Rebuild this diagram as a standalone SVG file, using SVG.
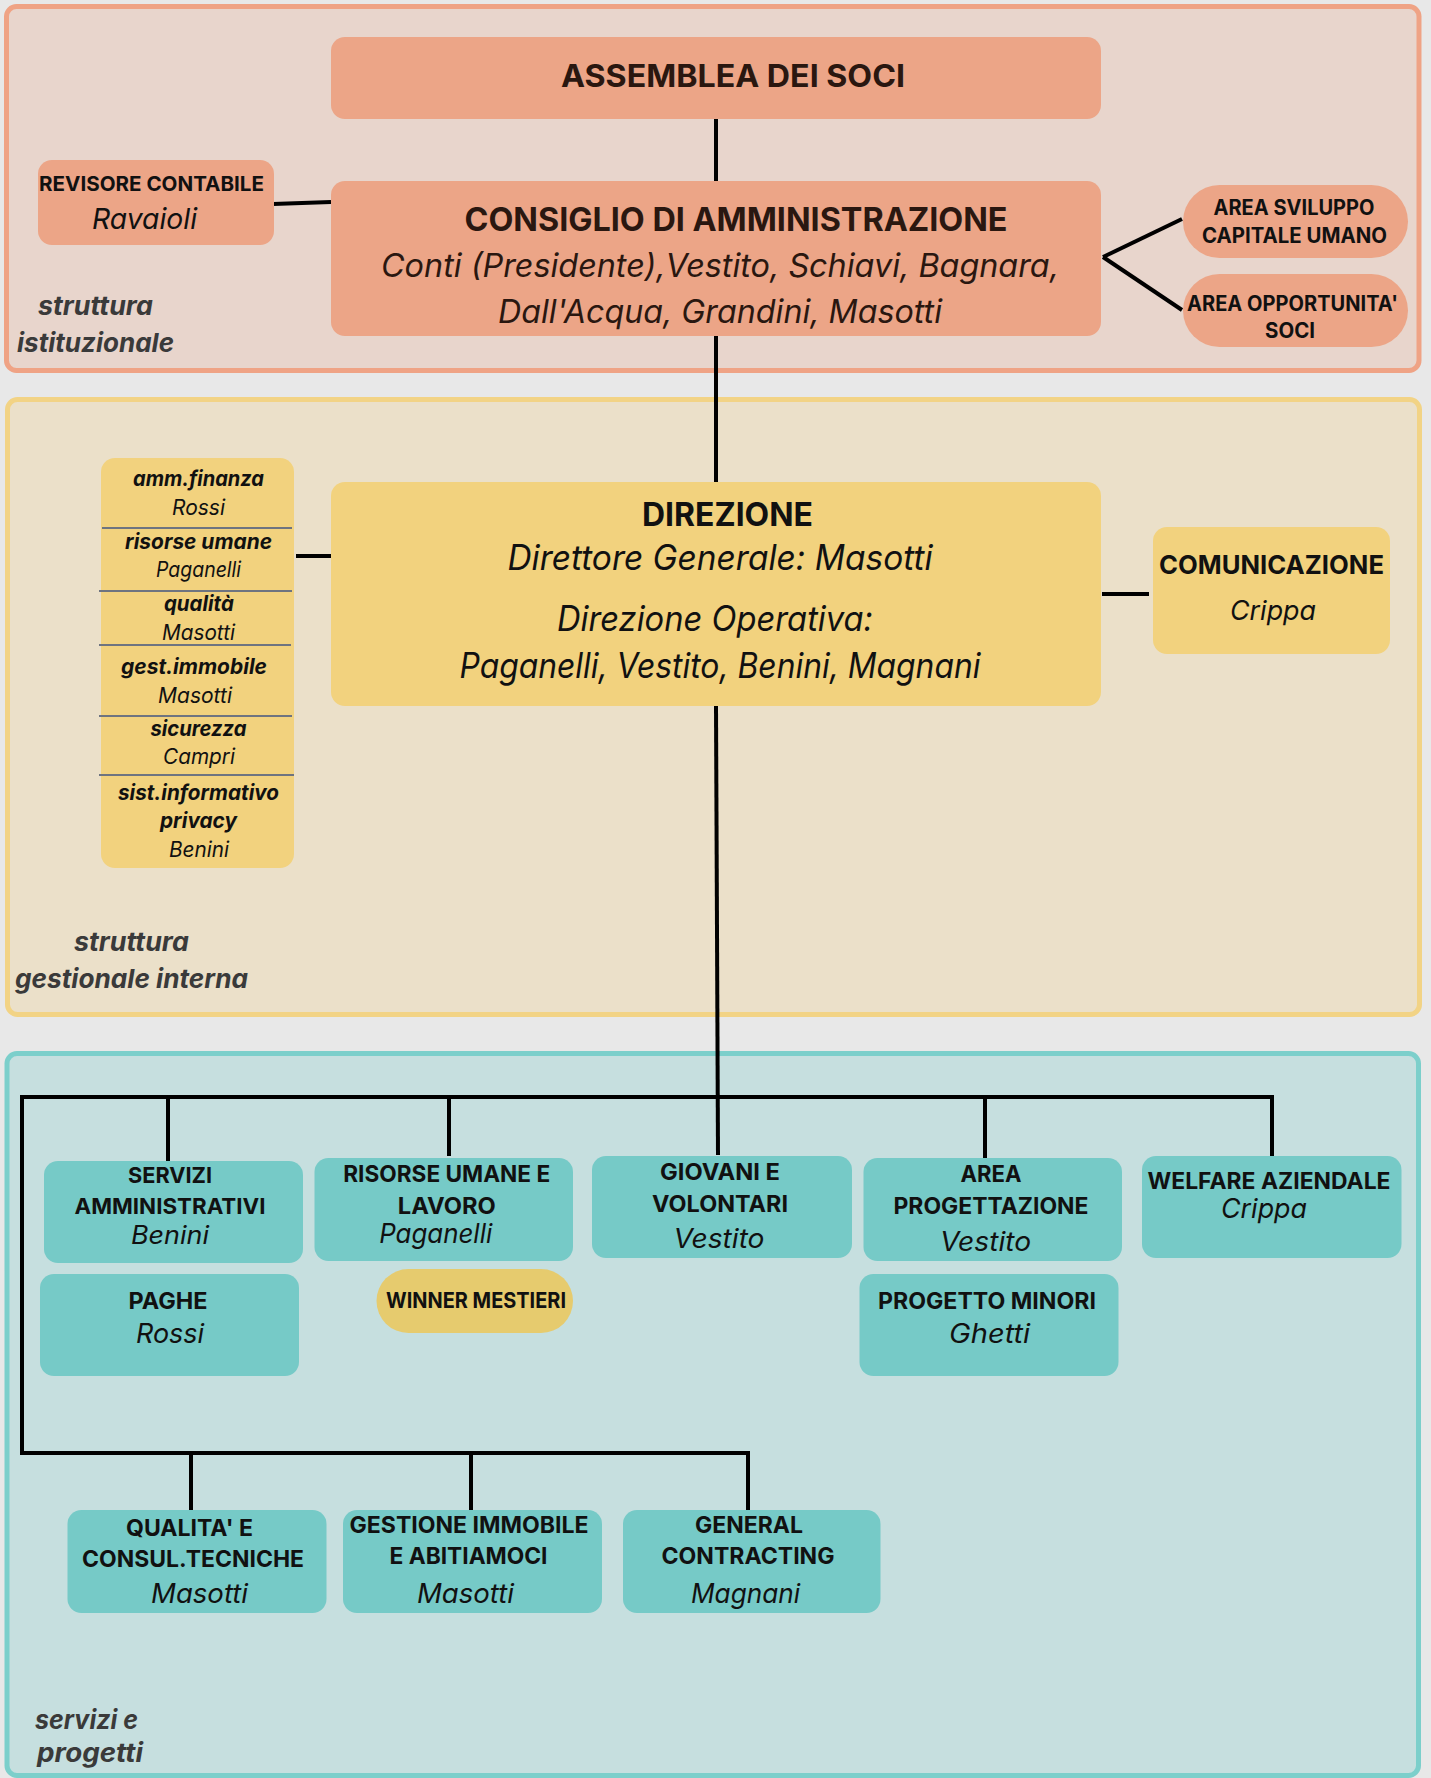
<svg xmlns="http://www.w3.org/2000/svg" width="1431" height="1778" viewBox="0 0 1431 1778">
<style>
text{font-family:Inter,"Liberation Sans",Arial,sans-serif;text-anchor:middle;fill:#111}
.b{font-weight:700}
.i{font-style:italic;font-weight:400}
.bi{font-style:italic;font-weight:700}
.pk text{fill:#2a1710}
.lbl{font-style:italic;font-weight:700;font-size:26px;fill:#3a3a3a;text-anchor:start}
.p1{fill:#E8D5CC;stroke:#EFA385;stroke-width:5}
.p2{fill:#EBE0C9;stroke:#F2D385;stroke-width:5}
.p3{fill:#C6DFDF;stroke:#7CCFCB;stroke-width:5}
.peach{fill:#ECA587}
.yel{fill:#F2D27E}
.teal{fill:#76CAC7}
.win{fill:#E6CB6E}
.conn line{stroke:#000;stroke-width:4}
.div{stroke:#6E7480;stroke-width:2}
</style>
<rect width="1431" height="1778" fill="#E8E8E8"/>
<g id="panels">
<rect class="p1" x="6.5" y="6.5" width="1412.5" height="364" rx="10"/>
<rect class="p2" x="7.5" y="399.5" width="1412" height="615" rx="10"/>
<rect class="p3" x="7" y="1053.5" width="1411.5" height="722" rx="10"/>
</g>
<g id="labels">
<text class="lbl" x="38" y="315" textLength="115" lengthAdjust="spacingAndGlyphs">struttura</text>
<text class="lbl" x="17" y="352" textLength="157" lengthAdjust="spacingAndGlyphs">istituzionale</text>
<text class="lbl" x="74" y="951" textLength="115" lengthAdjust="spacingAndGlyphs">struttura</text>
<text class="lbl" x="15" y="988" textLength="233" lengthAdjust="spacingAndGlyphs">gestionale interna</text>
<text class="lbl" x="35" y="1729" textLength="103" lengthAdjust="spacingAndGlyphs">servizi e</text>
<text class="lbl" x="37" y="1762" textLength="106" lengthAdjust="spacingAndGlyphs">progetti</text>
</g>
<g id="connectors" class="conn">
<line x1="716" y1="119" x2="716" y2="181"/>
<line x1="273" y1="204" x2="331" y2="202"/>
<line x1="1103" y1="257" x2="1182" y2="219"/>
<line x1="1103" y1="257" x2="1182" y2="310"/>
<line x1="716" y1="336" x2="716" y2="482"/>
<line x1="296" y1="556" x2="331" y2="556"/>
<line x1="1102" y1="594" x2="1149" y2="594"/>
<line x1="716" y1="706" x2="718" y2="1155"/>
<line x1="20" y1="1097" x2="1274" y2="1097"/>
<line x1="168" y1="1097" x2="168" y2="1161"/>
<line x1="449" y1="1097" x2="449" y2="1156"/>
<line x1="985" y1="1097" x2="985" y2="1158"/>
<line x1="1272" y1="1095" x2="1272" y2="1156"/>
<line x1="22" y1="1095" x2="22" y2="1455"/>
<line x1="20" y1="1453" x2="750" y2="1453"/>
<line x1="191" y1="1453" x2="191" y2="1511"/>
<line x1="471" y1="1453" x2="471" y2="1514"/>
<line x1="748" y1="1451" x2="748" y2="1512"/>
</g>
<g id="assemblea" class="pk">
<rect class="peach" x="331" y="37" width="770" height="82" rx="14"/>
<text class="b" x="733" y="87" font-size="31" textLength="344" lengthAdjust="spacingAndGlyphs">ASSEMBLEA DEI SOCI</text>
</g>
<g id="consiglio" class="pk">
<rect class="peach" x="331" y="181" width="770" height="155" rx="14"/>
<text class="b" x="736" y="231" font-size="32" textLength="543" lengthAdjust="spacingAndGlyphs">CONSIGLIO DI AMMINISTRAZIONE</text>
<text class="i" x="720" y="277" font-size="32" textLength="678" lengthAdjust="spacingAndGlyphs">Conti (Presidente),Vestito, Schiavi, Bagnara,</text>
<text class="i" x="720" y="323" font-size="32" textLength="444" lengthAdjust="spacingAndGlyphs">Dall'Acqua, Grandini, Masotti</text>
</g>
<g id="revisore">
<rect class="peach" x="38" y="160" width="236" height="85" rx="14"/>
<text class="b" x="151.5" y="191" font-size="20" textLength="225" lengthAdjust="spacingAndGlyphs">REVISORE CONTABILE</text>
<text class="i" x="144.5" y="229" font-size="29" textLength="105" lengthAdjust="spacingAndGlyphs">Ravaioli</text>
</g>
<g id="area-sviluppo">
<rect class="peach" x="1183" y="185" width="225" height="73" rx="36.5"/>
<text class="b" x="1294" y="215" font-size="21" textLength="161" lengthAdjust="spacingAndGlyphs">AREA SVILUPPO</text>
<text class="b" x="1294.5" y="243" font-size="21" textLength="185" lengthAdjust="spacingAndGlyphs">CAPITALE UMANO</text>
</g>
<g id="area-opportunita">
<rect class="peach" x="1183" y="274" width="225" height="73" rx="36.5"/>
<text class="b" x="1292.5" y="311" font-size="21" textLength="211" lengthAdjust="spacingAndGlyphs">AREA OPPORTUNITA'</text>
<text class="b" x="1290" y="338" font-size="21" textLength="50" lengthAdjust="spacingAndGlyphs">SOCI</text>
</g>
<g id="funzioni">
<rect class="yel" x="101" y="458" width="193" height="410" rx="14"/>
<line class="div" x1="102" y1="528" x2="292" y2="528"/>
<line class="div" x1="99" y1="591" x2="292" y2="591"/>
<line class="div" x1="99" y1="645" x2="291" y2="645"/>
<line class="div" x1="99" y1="716" x2="292" y2="716"/>
<line class="div" x1="99" y1="775" x2="294" y2="775"/>
<text class="bi" x="198.5" y="486" font-size="21" textLength="131" lengthAdjust="spacingAndGlyphs">amm.finanza</text>
<text class="i" x="198.5" y="515" font-size="21" textLength="53" lengthAdjust="spacingAndGlyphs">Rossi</text>
<text class="bi" x="198.5" y="549" font-size="21" textLength="147" lengthAdjust="spacingAndGlyphs">risorse umane</text>
<text class="i" x="198.5" y="577" font-size="21" textLength="85" lengthAdjust="spacingAndGlyphs">Paganelli</text>
<text class="bi" x="199" y="611" font-size="21" textLength="70" lengthAdjust="spacingAndGlyphs">qualità</text>
<text class="i" x="198.5" y="640" font-size="21" textLength="73" lengthAdjust="spacingAndGlyphs">Masotti</text>
<text class="bi" x="194" y="674" font-size="21" textLength="146" lengthAdjust="spacingAndGlyphs">gest.immobile</text>
<text class="i" x="195" y="703" font-size="21" textLength="74" lengthAdjust="spacingAndGlyphs">Masotti</text>
<text class="bi" x="198.5" y="736" font-size="21" textLength="96" lengthAdjust="spacingAndGlyphs">sicurezza</text>
<text class="i" x="199" y="764" font-size="21" textLength="72" lengthAdjust="spacingAndGlyphs">Campri</text>
<text class="bi" x="198.5" y="800" font-size="21" textLength="161" lengthAdjust="spacingAndGlyphs">sist.informativo</text>
<text class="bi" x="198.5" y="828" font-size="21" textLength="77" lengthAdjust="spacingAndGlyphs">privacy</text>
<text class="i" x="199" y="857" font-size="21" textLength="60" lengthAdjust="spacingAndGlyphs">Benini</text>
</g>
<g id="direzione">
<rect class="yel" x="331" y="482" width="770" height="224" rx="14"/>
<text class="b" x="727.5" y="526" font-size="32" textLength="171" lengthAdjust="spacingAndGlyphs">DIREZIONE</text>
<text class="i" x="720" y="570" font-size="35" textLength="425" lengthAdjust="spacingAndGlyphs">Direttore Generale: Masotti</text>
<text class="i" x="715" y="631" font-size="35" textLength="316" lengthAdjust="spacingAndGlyphs">Direzione Operativa:</text>
<text class="i" x="720" y="678" font-size="35" textLength="521" lengthAdjust="spacingAndGlyphs">Paganelli, Vestito, Benini, Magnani</text>
</g>
<g id="comunicazione">
<rect class="yel" x="1153" y="527" width="237" height="127" rx="14"/>
<text class="b" x="1271.5" y="574" font-size="26" textLength="225" lengthAdjust="spacingAndGlyphs">COMUNICAZIONE</text>
<text class="i" x="1273" y="620" font-size="27" textLength="86" lengthAdjust="spacingAndGlyphs">Crippa</text>
</g>
<g id="servizi-amministrativi">
<rect class="teal" x="44" y="1161" width="259" height="102" rx="14"/>
<text class="b" x="170" y="1183" font-size="22" textLength="84" lengthAdjust="spacingAndGlyphs">SERVIZI</text>
<text class="b" x="170" y="1214" font-size="22" textLength="191" lengthAdjust="spacingAndGlyphs">AMMINISTRATIVI</text>
<text class="i" x="170" y="1244" font-size="25" textLength="78" lengthAdjust="spacingAndGlyphs">Benini</text>
</g>
<g id="paghe">
<rect class="teal" x="40" y="1274" width="259" height="102" rx="14"/>
<text class="b" x="168" y="1309" font-size="23" textLength="79" lengthAdjust="spacingAndGlyphs">PAGHE</text>
<text class="i" x="170" y="1343" font-size="27" textLength="68" lengthAdjust="spacingAndGlyphs">Rossi</text>
</g>
<g id="risorse-umane">
<rect class="teal" x="314.5" y="1158" width="258.5" height="103" rx="14"/>
<text class="b" x="446.7" y="1182" font-size="23" textLength="207" lengthAdjust="spacingAndGlyphs">RISORSE UMANE E</text>
<text class="b" x="446.8" y="1214" font-size="23" textLength="98" lengthAdjust="spacingAndGlyphs">LAVORO</text>
<text class="i" x="435.7" y="1243" font-size="27" textLength="113" lengthAdjust="spacingAndGlyphs">Paganelli</text>
</g>
<g id="winner-mestieri">
<rect class="win" x="376.5" y="1269" width="196.5" height="64" rx="32"/>
<text class="b" x="476" y="1308" font-size="22" textLength="180" lengthAdjust="spacingAndGlyphs">WINNER MESTIERI</text>
</g>
<g id="giovani-volontari">
<rect class="teal" x="592" y="1156" width="260" height="102" rx="14"/>
<text class="b" x="720" y="1180" font-size="23" textLength="120" lengthAdjust="spacingAndGlyphs">GIOVANI E</text>
<text class="b" x="720" y="1212" font-size="23" textLength="136" lengthAdjust="spacingAndGlyphs">VOLONTARI</text>
<text class="i" x="719" y="1248" font-size="27" textLength="91" lengthAdjust="spacingAndGlyphs">Vestito</text>
</g>
<g id="area-progettazione">
<rect class="teal" x="863.5" y="1158" width="258.5" height="103" rx="14"/>
<text class="b" x="991" y="1182" font-size="23" textLength="61" lengthAdjust="spacingAndGlyphs">AREA</text>
<text class="b" x="991" y="1214" font-size="23" textLength="195" lengthAdjust="spacingAndGlyphs">PROGETTAZIONE</text>
<text class="i" x="985.6" y="1251" font-size="27" textLength="91" lengthAdjust="spacingAndGlyphs">Vestito</text>
</g>
<g id="progetto-minori">
<rect class="teal" x="859.5" y="1274" width="259" height="102" rx="14"/>
<text class="b" x="987" y="1309" font-size="23" textLength="218" lengthAdjust="spacingAndGlyphs">PROGETTO MINORI</text>
<text class="i" x="989.6" y="1343" font-size="27" textLength="81" lengthAdjust="spacingAndGlyphs">Ghetti</text>
</g>
<g id="welfare-aziendale">
<rect class="teal" x="1142" y="1156" width="259.5" height="102" rx="14"/>
<text class="b" x="1269" y="1189" font-size="23" textLength="243" lengthAdjust="spacingAndGlyphs">WELFARE AZIENDALE</text>
<text class="i" x="1264" y="1218" font-size="27" textLength="86" lengthAdjust="spacingAndGlyphs">Crippa</text>
</g>
<g id="qualita-consulenze">
<rect class="teal" x="67.5" y="1510" width="259" height="103" rx="14"/>
<text class="b" x="189.5" y="1536" font-size="23" textLength="127" lengthAdjust="spacingAndGlyphs">QUALITA' E</text>
<text class="b" x="193" y="1567" font-size="23" textLength="222" lengthAdjust="spacingAndGlyphs">CONSUL.TECNICHE</text>
<text class="i" x="199.5" y="1603" font-size="27" textLength="97" lengthAdjust="spacingAndGlyphs">Masotti</text>
</g>
<g id="gestione-immobile">
<rect class="teal" x="343" y="1510" width="259" height="103" rx="14"/>
<text class="b" x="469" y="1533" font-size="23" textLength="239" lengthAdjust="spacingAndGlyphs">GESTIONE IMMOBILE</text>
<text class="b" x="468.5" y="1564" font-size="23" textLength="158" lengthAdjust="spacingAndGlyphs">E ABITIAMOCI</text>
<text class="i" x="465.4" y="1603" font-size="27" textLength="97" lengthAdjust="spacingAndGlyphs">Masotti</text>
</g>
<g id="general-contracting">
<rect class="teal" x="623" y="1510" width="257.5" height="103" rx="14"/>
<text class="b" x="749" y="1533" font-size="23" textLength="108" lengthAdjust="spacingAndGlyphs">GENERAL</text>
<text class="b" x="748" y="1564" font-size="23" textLength="173" lengthAdjust="spacingAndGlyphs">CONTRACTING</text>
<text class="i" x="745.5" y="1603" font-size="27" textLength="109" lengthAdjust="spacingAndGlyphs">Magnani</text>
</g>
</svg>
